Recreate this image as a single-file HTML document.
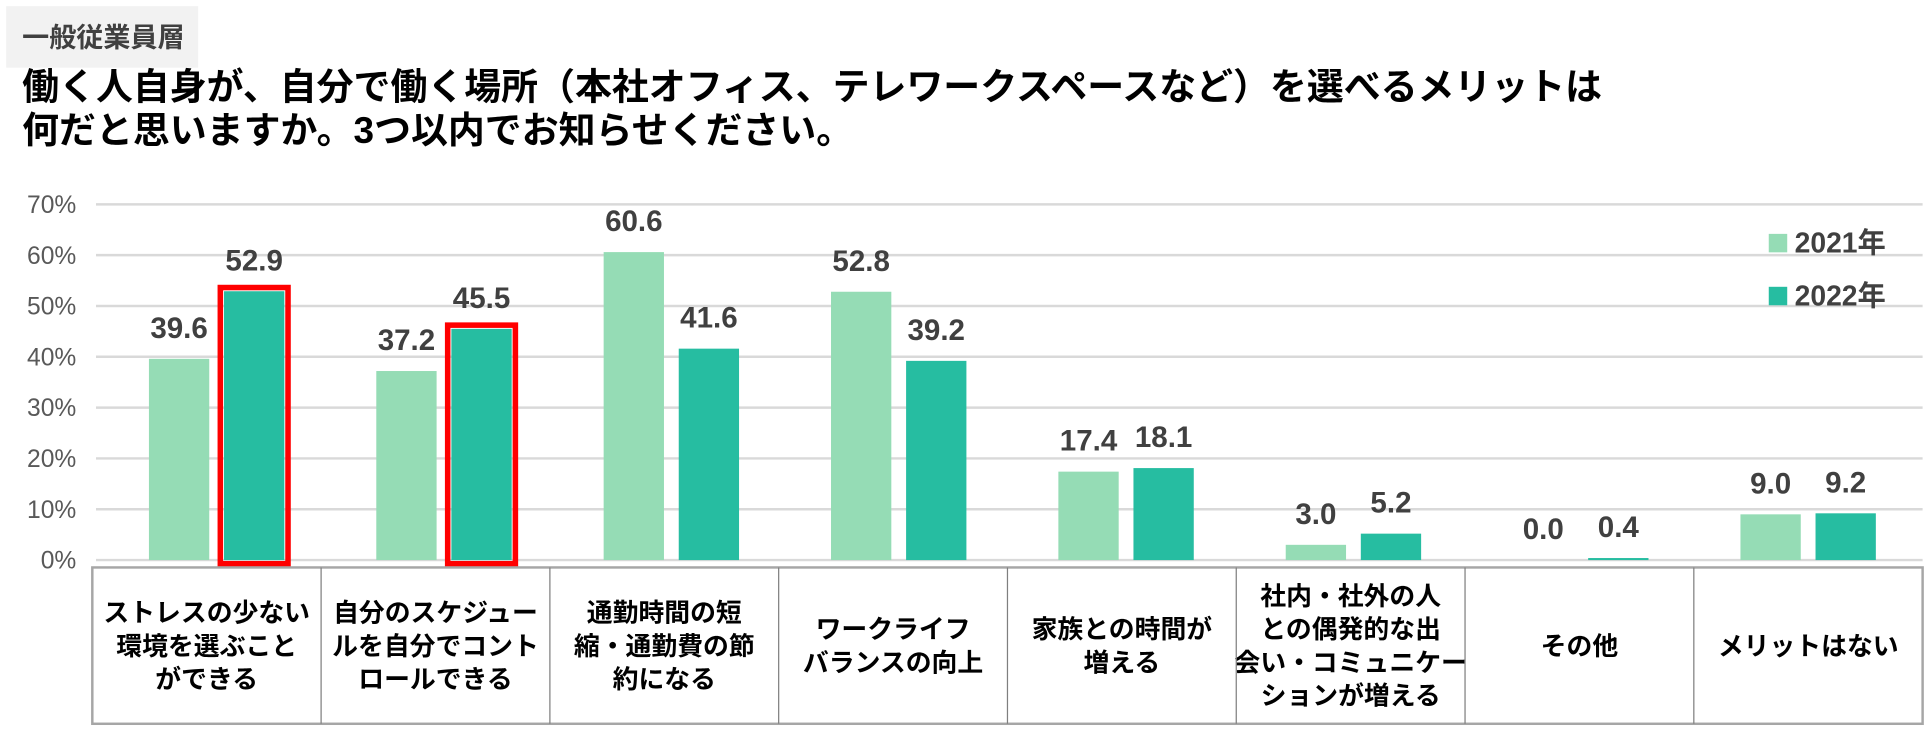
<!DOCTYPE html>
<html><head><meta charset="utf-8"><style>
body{margin:0;background:#fff;width:1930px;height:734px;overflow:hidden;font-family:"Liberation Sans","Noto Sans CJK JP",sans-serif;}
svg text{font-family:"Liberation Sans","Noto Sans CJK JP",sans-serif;}
</style></head><body>
<svg id="c" width="1930" height="734" viewBox="0 0 1568 596.3" preserveAspectRatio="none">
<rect x="5" y="5" width="156" height="50" fill="#f2f2f2"/>
<text x="18" y="38" font-size="22" font-weight="bold" fill="#404040">一般従業員層</text>
<text x="18" y="81" font-size="30" font-weight="bold" fill="#000">働く人自身が、自分で働く場所（本社オフィス、テレワークスペースなど）を選べるメリットは</text>
<text x="18" y="116" font-size="30" font-weight="bold" fill="#000">何だと思いますか。3つ以内でお知らせください。</text>
</svg>
<script>
const categories=[["ストレスの少ない","環境を選ぶこと","ができる"],["自分のスケジュー","ルを自分でコント","ロールできる"],["通勤時間の短","縮・通勤費の節","約になる"],["ワークライフ","バランスの向上"],["家族との時間が","増える"],["社内・社外の人","との偶発的な出","会い・コミュニケー","ションが増える"],["その他"],["メリットはない"]];
const series2021=[39.6,37.2,60.6,52.8,17.4,3.0,0.0,9.0];
const series2022=[52.9,45.5,41.6,39.2,18.1,5.2,0.4,9.2];
const highlighted=[0,1];
const ticks=[0,10,20,30,40,50,60,70];
const seriesNames=["2021年","2022年"];
const svg=document.getElementById('c');const NS="http://www.w3.org/2000/svg";
function mk(t,a,txt){const e=document.createElementNS(NS,t);for(const k in a)e.setAttribute(k,a[k]);if(txt!=null)e.textContent=txt;svg.appendChild(e);return e;}
const L=75,R=1562,y0=455,yTop=166;
const y=v=>y0-(v/70)*(y0-yTop);
const colW=(R-L)/categories.length;
const cx=i=>L+colW*(i+0.5);
const bx=i=>176+(1469-176)/(categories.length-1)*i;
ticks.forEach(t=>{
 const g=mk('line',{x1:78,x2:1562,y1:y(t),y2:y(t),stroke:'#d9d9d9','stroke-width':2});
 
 
 const l=mk('text',{x:62,y:y(t)+7,'font-size':20,fill:'#595959','text-anchor':'end'},t+'%');
 
 
});
const bw=49,gap=12;
categories.forEach((c,i)=>{
 const x1=bx(i)-gap/2-bw,x2=bx(i)+gap/2;
 const b1=mk('rect',{x:x1,y:y(series2021[i]),width:bw,height:y0-y(series2021[i]),fill:'#95dcb5'});
 
 
 const b2=mk('rect',{x:x2,y:y(series2022[i]),width:bw,height:y0-y(series2022[i]),fill:'#26bda1'});
 
 
 if(highlighted.includes(i)){
  const h=mk('rect',{x:x2-3,y:y(series2022[i])-3,width:bw+6,height:y0-y(series2022[i])+6,fill:'none',stroke:'#ff0000','stroke-width':4.5});
  
  
 }
 const v1=mk('text',{x:x1+bw/2,y:y(series2021[i])-17,'font-size':24,'font-weight':'bold',fill:'#404040','text-anchor':'middle'},series2021[i].toFixed(1));
 
 
 const v2=mk('text',{x:x2+bw/2,y:y(series2022[i])-17,'font-size':24,'font-weight':'bold',fill:'#404040','text-anchor':'middle'},series2022[i].toFixed(1));
 
 
 const n=c.length,lh=27,top=525-(n-1)*lh/2+7;
 c.forEach((s,j)=>{
  const t=mk('text',{x:cx(i),y:top+j*lh,'font-size':21,'font-weight':'bold',fill:'#000','text-anchor':'middle'},s);
  
  
 });
});
const tb=mk('rect',{x:L,y:461,width:R-L,height:127,fill:'none',stroke:'#a6a6a6','stroke-width':2});


for(let i=1;i<categories.length;i++){
 const d=mk('line',{x1:L+colW*i,x2:L+colW*i,y1:461,y2:588,stroke:'#7f7f7f','stroke-width':1});
 
 
}
seriesNames.forEach((s,k)=>{
 const yy=190+k*43;
 const sw=mk('rect',{x:1437,y:yy,width:15,height:15,fill:k?'#26bda1':'#95dcb5'});
 
 
 const lt=mk('text',{x:1458,y:yy+15,'font-size':23,'font-weight':'bold',fill:'#404040'},s);
 
 
});
</script>
</body></html>
